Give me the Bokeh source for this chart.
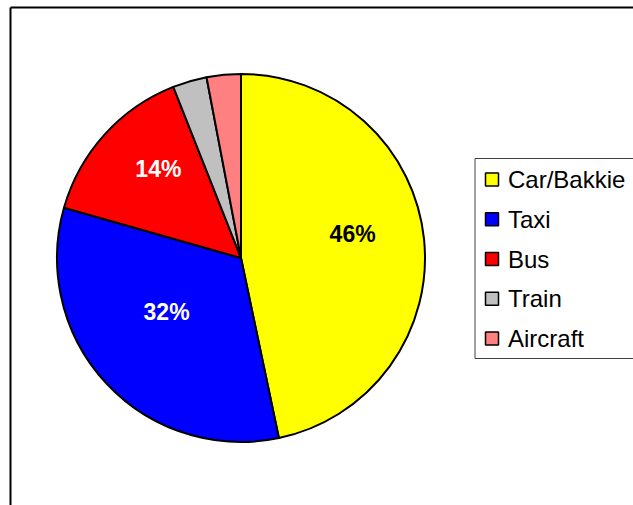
import math
from bokeh.plotting import figure
from bokeh.models import Range1d
from bokeh.core.properties import value
from bokeh.embed import file_html
from bokeh.resources import INLINE

# ---- data ----
categories = ["Car/Bakkie", "Taxi", "Bus", "Train", "Aircraft"]
shares = [46.7, 32.7, 14.6, 3.0, 3.0]
colors = ["#FFFF00", "#0000FF", "#FF0000", "#C0C0C0", "#FF8080"]
label_colors = ["black", "white", "white", "black", "black"]

# ---- layout / style ----
W, H = 633, 505
PAGE = 0
def px(x):  # page x -> data x
    return x - PAGE
def py(y):  # page y -> data y
    return H + PAGE - y

cx, cy, R = px(240.5), py(257.5), 184
label_rfrac = [0.62, 0.50, 0.66]
label_shift_deg = [-6, 7, 5]
min_label_share = 10

p = figure(width=W, height=H, x_range=Range1d(0, W), y_range=Range1d(0, H),
           output_backend="svg", toolbar_location=None, min_border=0)
p.axis.visible = False
p.grid.visible = False
p.outline_line_color = None
p.background_fill_color = "white"
p.border_fill_color = "white"

# outer frame (left and top lines)
p.line([px(10), px(10)], [py(540), py(7)], line_color="black", line_width=2)
p.line([px(10), px(700)], [py(7), py(7)], line_color="black", line_width=2)

total = sum(shares)
starts, ends, mids = [], [], []
cum = 0.0
for s in shares:
    f0 = cum / total
    cum += s
    f1 = cum / total
    starts.append(math.pi / 2 - 2 * math.pi * f1)
    ends.append(math.pi / 2 - 2 * math.pi * f0)
    mids.append((f0 + f1) / 2)

p.wedge(x=[cx] * len(shares), y=[cy] * len(shares), radius=R,
        start_angle=starts, end_angle=ends, direction="anticlock",
        fill_color=colors, line_color="black", line_width=2, line_join="round")

# percentage labels
li = 0
for i, s in enumerate(shares):
    if s < min_label_share:
        continue
    theta = 2 * math.pi * mids[i] + math.radians(label_shift_deg[li])
    r = label_rfrac[li] * R
    li += 1
    lx = cx + r * math.sin(theta)
    ly = cy + r * math.cos(theta)
    p.text(x=[lx], y=[ly], text=[f"{int(s)}%"], text_align="center",
           text_baseline="middle", text_font=value("Liberation Sans"),
           text_font_style="bold", text_font_size="23px",
           text_color=label_colors[i])

# legend box
p.quad(left=[px(474.5)], right=[px(700)], top=[py(158)], bottom=[py(358)],
       fill_color="white", line_color="#404040", line_width=1)
leg_top, leg_step = 179, 39.75
leg_y = [py(leg_top + k * leg_step) for k in range(len(categories))]
p.rect(x=[px(491.5)] * len(categories), y=leg_y, width=13, height=13,
       fill_color=colors, line_color="black", line_width=1.5)
p.text(x=[px(507.5)] * len(categories), y=leg_y, text=categories,
       text_align="left", text_baseline="middle",
       text_font=value("Liberation Sans"), text_font_size="24px",
       text_color="black")

open("out.html", "w").write(file_html(p, INLINE))
